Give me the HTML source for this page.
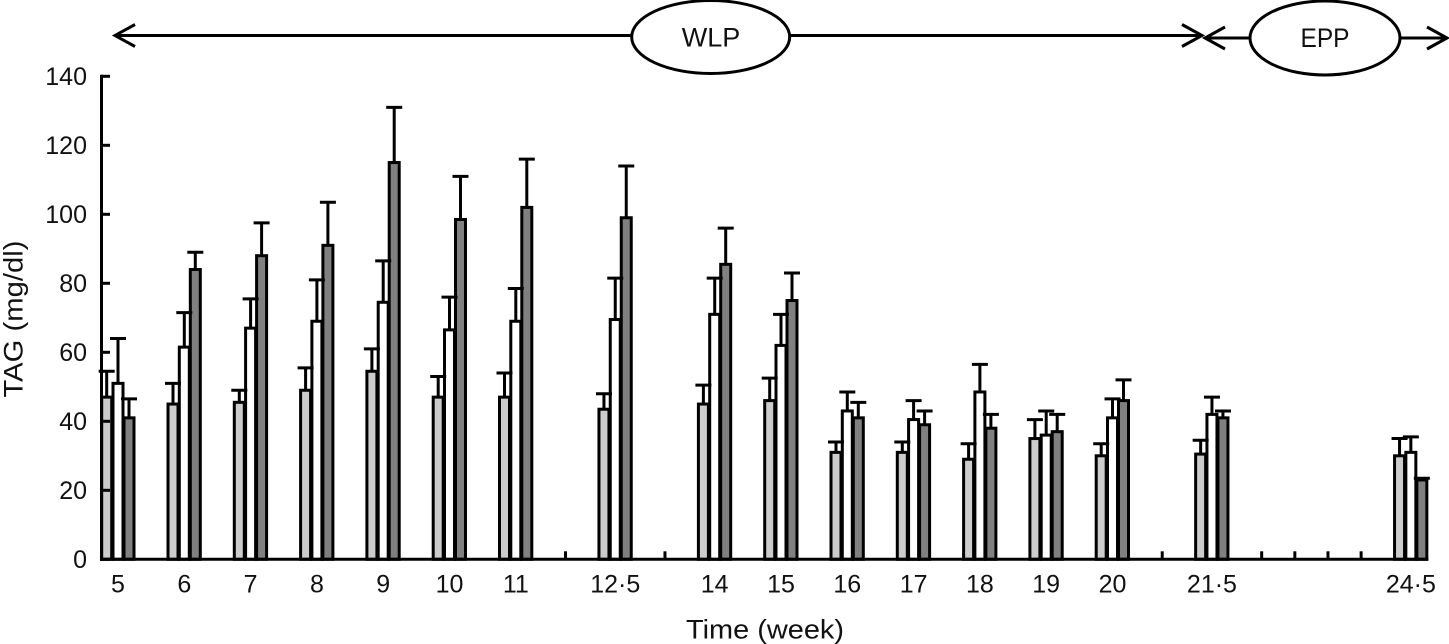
<!DOCTYPE html>
<html>
<head>
<meta charset="utf-8">
<style>
html,body{margin:0;padding:0;background:#fff;}
svg{display:block;}
text{font-family:"Liberation Sans",sans-serif;fill:#111;}
</style>
</head>
<body>
<svg id="chart" xmlns="http://www.w3.org/2000/svg" width="1449" height="644" viewBox="0 0 1449 644">
  <g fill="none" stroke="#000" stroke-width="3">
    <path d="M115 35.5H1202M135 24.5L115 35.5L135 46.5M1182 24.5L1202 35.5L1182 46.5"/>
    <ellipse cx="710.7" cy="37" rx="79" ry="36.5" fill="#fff"/>
    <path d="M1205 38H1447M1225 27L1205 38L1225 49M1427 27L1447 38L1427 49"/>
    <ellipse cx="1325" cy="38" rx="75" ry="37" fill="#fff"/>
  </g>
  <text x="711" y="46.7" font-size="27" text-anchor="middle">WLP</text>
  <text x="1325" y="47" font-size="27" text-anchor="middle" textLength="49" lengthAdjust="spacingAndGlyphs">EPP</text>
  <text transform="translate(22.5,319) rotate(-90)" font-size="27" text-anchor="middle" textLength="157" lengthAdjust="spacingAndGlyphs">TAG (mg/dl)</text>
  <text x="765" y="638.5" font-size="27" text-anchor="middle" textLength="158" lengthAdjust="spacingAndGlyphs">Time (week)</text>
  <g id="bars"></g>
  <g id="errors"></g>
  <g id="axes"></g>
</svg>
<script>
const weeks = [5, 6, 7, 8, 9, 10, 11, 12.5, 14, 15, 16, 17, 18, 19, 20, 21.5, 24.5];
const weekLabels = ['5', '6', '7', '8', '9', '10', '11', '12·5', '14', '15', '16', '17', '18', '19', '20', '21·5', '24·5'];
const extraTickWeeks = [11.75, 13.25, 20.75, 22.25, 22.75, 23.25, 23.75];
const yTicks = [0, 20, 40, 60, 80, 100, 120, 140];
const lightMeans = [47, 45, 45.5, 49, 54.5, 47, 47, 43.5, 45, 46, 31, 31, 29, 35, 30, 30.5, 30];
const lightTops = [54.5, 51, 49, 55.5, 61, 53, 54, 48, 50.5, 52.5, 34, 34, 33.5, 40.5, 33.5, 34.5, 35];
const whiteMeans = [51, 61.5, 67, 69, 74.5, 66.5, 69, 69.5, 71, 62, 43, 40.5, 48.5, 36, 41, 42, 31];
const whiteTops = [64, 71.5, 75.5, 81, 86.5, 76, 78.5, 81.5, 81.5, 71, 48.5, 46, 56.5, 43, 46.5, 47, 35.5];
const darkMeans = [41, 84, 88, 91, 115, 98.5, 102, 99, 85.5, 75, 41, 39, 38, 37, 46, 41, 23];
const darkTops = [46.5, 89, 97.5, 103.5, 131, 111, 116, 114, 96, 83, 45.5, 43, 42, 42, 52, 43, 23.5];

const NS = 'http://www.w3.org/2000/svg';
function xScale(w) { return 118 + (w - 5) * 66.3; }
function yScale(v) { return 559.3 - v * 3.45; }
function make(tag, attrs, parent) {
  const el = document.createElementNS(NS, tag);
  for (const k in attrs) el.setAttribute(k, attrs[k]);
  parent.appendChild(el);
  return el;
}
const barsG = document.getElementById('bars');
const errorsG = document.getElementById('errors');
const axesG = document.getElementById('axes');
const seriesList = [
  { key: 'light', means: lightMeans, tops: lightTops, fill: '#cccccc', off: -11.3 },
  { key: 'white', means: whiteMeans, tops: whiteTops, fill: '#ffffff', off: 0 },
  { key: 'dark', means: darkMeans, tops: darkTops, fill: '#808080', off: 11 }
];
seriesList.forEach(function (s) {
  weeks.forEach(function (w, i) {
    const cx = xScale(w) + s.off;
    const top = yScale(s.means[i]);
    const bar = make('rect', { x: cx - 5, y: top, width: 10, height: yScale(0) - top, fill: s.fill, stroke: '#000', 'stroke-width': 3 }, barsG);
    
    
    const errTop = yScale(s.tops[i]);
    const err = make('path', { d: 'M' + cx + ' ' + top + 'V' + errTop + 'M' + (cx - 8) + ' ' + errTop + 'H' + (cx + 8), fill: 'none', stroke: '#000', 'stroke-width': 3 }, errorsG);
    
    
  });
});
const yLine = make('line', { x1: 101.5, x2: 101.5, y1: yScale(140) - 1.5, y2: yScale(0) + 1.5, stroke: '#000', 'stroke-width': 3 }, axesG);


const xLine = make('line', { x1: 100, x2: xScale(24.5) + 17.5, y1: yScale(0), y2: yScale(0), stroke: '#000', 'stroke-width': 3 }, axesG);


yTicks.forEach(function (t) {
  const y = yScale(t);
  const tick = make('line', { x1: 101, x2: 110, y1: y, y2: y, stroke: '#000', 'stroke-width': 3 }, axesG);
  
  
  const label = make('text', { x: 87, y: y + 8.5, 'font-size': 25, 'text-anchor': 'end' }, axesG);
  label.textContent = String(t);
  
  
});
weeks.forEach(function (w, i) {
  const label = make('text', { x: xScale(w), y: 592.3, 'font-size': 25, 'text-anchor': 'middle' }, axesG);
  label.textContent = weekLabels[i];
  
  
});
extraTickWeeks.forEach(function (w) {
  const x = xScale(w);
  const tick = make('line', { x1: x, x2: x, y1: yScale(0) - 8, y2: yScale(0), stroke: '#000', 'stroke-width': 3 }, axesG);
  
  
});
</script>
</body>
</html>
